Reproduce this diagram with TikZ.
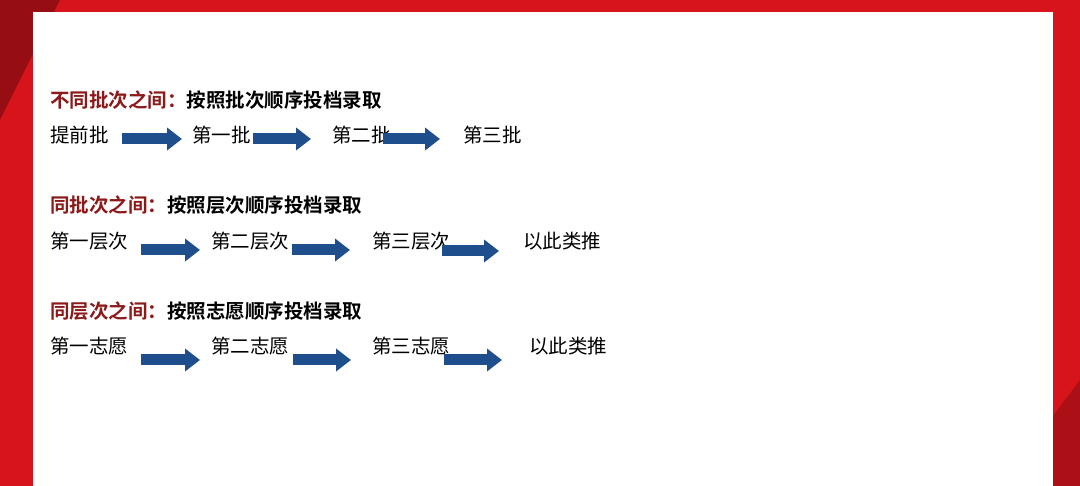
\documentclass[tikz,border=0pt]{standalone}
\usepackage{fontspec}
\newfontfamily\cjk{Noto Sans CJK SC}
\newfontfamily\cjkb{Noto Sans CJK SC Bold}
\usetikzlibrary{arrows.meta}
\definecolor{bgred}{HTML}{D7141B}
\definecolor{darkred}{HTML}{8B1A1A}
\definecolor{arrblue}{HTML}{1F4E8C}
\tikzset{
  item/.style={anchor=west,inner sep=0pt,font=\cjk\fontsize{19.5}{20}\selectfont},
  head/.style={anchor=west,inner sep=0pt,font=\cjkb\fontsize{19.5}{20}\selectfont},
  barrow/.style={draw=arrblue,line width=11pt,-{Triangle[width=22pt,length=15pt]}}
}
\begin{document}
\begin{tikzpicture}[x=1pt,y=-1pt]
\useasboundingbox (0,0) rectangle (1080,486);
\fill[bgred] (0,0) rectangle (1080,486);
\fill[bgred!70!black] (0,0) -- (60,0) -- (0,120) -- cycle;
\fill[bgred!80!black] (1080,380) -- (1080,486) -- (1000,486) -- cycle;
\fill[white] (33,12) rectangle (1053,486);

\node[head] (h1) at (50,100) {\textcolor{darkred}{不同批次之间：}按照批次顺序投档录取};
\node[item] (a1) at (50,135) {提前批};
\node[item] (a2) at (192,135) {第一批};
\node[item] (a3) at (332,135) {第二批};
\node[item] (a4) at (463,135) {第三批};
\coordinate (p11) at (122,139); \coordinate (q11) at (182,139);
\coordinate (p12) at (253,139); \coordinate (q12) at (311,139);
\coordinate (p13) at (383,139); \coordinate (q13) at (440,139);
\draw[barrow] (p11) -- (q11);
\draw[barrow] (p12) -- (q12);
\draw[barrow] (p13) -- (q13);

\node[head] (h2) at (50,205) {\textcolor{darkred}{同批次之间：}按照层次顺序投档录取};
\node[item] (b1) at (50,241) {第一层次};
\node[item] (b2) at (211,241) {第二层次};
\node[item] (b3) at (372,241) {第三层次};
\node[item] (b4) at (523,241) {以此类推};
\coordinate (p21) at (141,250); \coordinate (q21) at (200,250);
\coordinate (p22) at (292,250); \coordinate (q22) at (350,250);
\coordinate (p23) at (442,251); \coordinate (q23) at (499,251);
\draw[barrow] (p21) -- (q21);
\draw[barrow] (p22) -- (q22);
\draw[barrow] (p23) -- (q23);

\node[head] (h3) at (50,311) {\textcolor{darkred}{同层次之间：}按照志愿顺序投档录取};
\node[item] (c1) at (50,346) {第一志愿};
\node[item] (c2) at (211,346) {第二志愿};
\node[item] (c3) at (372,346) {第三志愿};
\node[item] (c4) at (529,346) {以此类推};
\coordinate (p31) at (141,360); \coordinate (q31) at (200,360);
\coordinate (p32) at (293,360); \coordinate (q32) at (351,360);
\coordinate (p33) at (444,360); \coordinate (q33) at (502,360);
\draw[barrow] (p31) -- (q31);
\draw[barrow] (p32) -- (q32);
\draw[barrow] (p33) -- (q33);
\end{tikzpicture}
\end{document}
